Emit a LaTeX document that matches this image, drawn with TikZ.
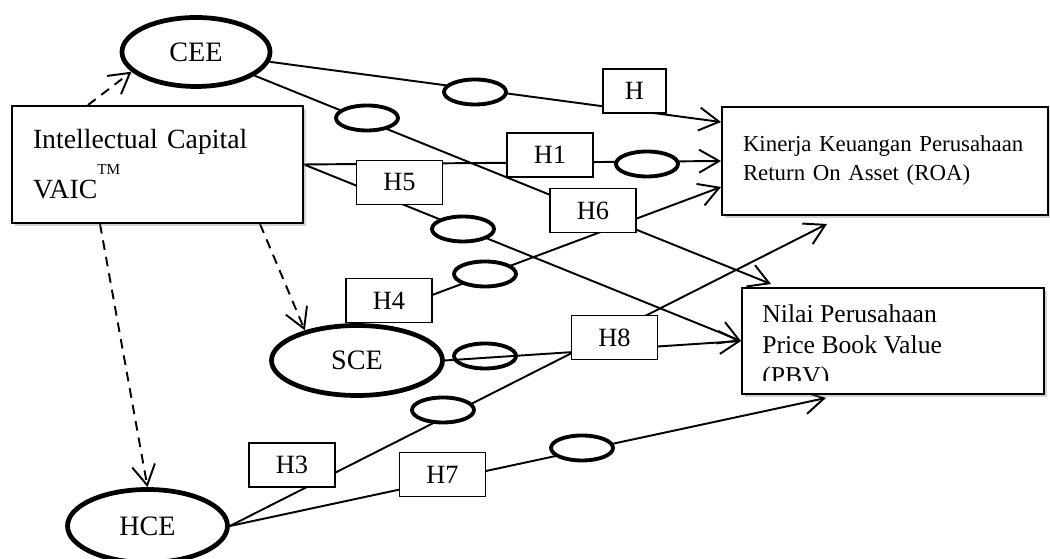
\documentclass[tikz,border=0pt]{standalone}
\usepackage{fontspec}
\setmainfont{Liberation Serif}
\usetikzlibrary{shapes.geometric, shadows, backgrounds}
\usetikzlibrary{arrows.meta}

\begin{document}
\begin{tikzpicture}[
    mainbox/.style={draw, line width=1.1pt, fill=white, rectangle, align=left,
      drop shadow={shadow xshift=0.06cm, shadow yshift=-0.06cm, opacity=0.35}},
    bigoval/.style={draw, ellipse, line width=2.7pt, fill=white, inner sep=0pt,
      font=\fontsize{16}{19}\selectfont},
    oval/.style={draw, ellipse, line width=2.2pt, fill=white, inner sep=0pt,
      minimum width=1.24cm, minimum height=0.5cm},
    hbox/.style={draw, line width=0.8pt, fill=white, inner sep=0pt,
      minimum width=1.72cm, minimum height=0.88cm, font=\fontsize{15}{18}\selectfont},
    link/.style={line width=1.1pt, -{Straight Barb[length=4mm,width=4.6mm]}},
    dashlink/.style={link, dash pattern=on 5.5pt off 4pt}
  ]
  \useasboundingbox (0,0) rectangle (21,11.18);

  % variables
  \node[mainbox, minimum width=5.82cm, minimum height=2.34cm, text width=4.98cm,
    inner xsep=0.42cm, inner ysep=0pt, font=\fontsize{15.8}{28.5}\selectfont] (ic) at (3.15,7.89)
    {Intellectual Capital\\VAIC\raisebox{13.7pt}{\fontsize{8.7}{10}\selectfont TM}};
  \node[bigoval, minimum width=2.96cm, minimum height=1.38cm] (cee) at (3.92,10.14) {CEE};
  \node[bigoval, minimum width=3.42cm, minimum height=1.4cm] (sce) at (7.14,3.97) {SCE};
  \node[bigoval, minimum width=3.2cm, minimum height=1.46cm] (hce) at (2.95,0.66) {HCE};
  \node[mainbox, minimum width=6.52cm, minimum height=2.16cm, text width=5.68cm,
    inner xsep=0.42cm, inner ysep=0pt, font=\fontsize{13}{16.5}\selectfont] (roa) at (17.7,7.96)
    {Kinerja Keuangan Perusahaan\\Return On Asset (ROA)};
  \node[mainbox, minimum width=6.04cm, minimum height=2.12cm] (pbv) at (17.86,4.36) {};
  \begin{scope}
    \clip (pbv.north west) rectangle ([yshift=0.28cm]pbv.south east);
    \node[anchor=base west, align=left, inner sep=0pt, font=\fontsize{14.6}{17.6}\selectfont]
      (pbvtext) at ([xshift=0.42cm,yshift=-1.94cm]pbv.north west)
      {Nilai Perusahaan\\Price Book Value\\(PBV)};
  \end{scope}

  % mediating ovals
  \foreach \n/\x/\y in {o1/9.5/9.34, o2/7.34/8.82, o3/12.94/7.9, o4/9.26/6.6,
                        o5/9.7/5.7, o7/8.86/2.98, o8/11.64/2.22}
    \node[oval] (\n) at (\x,\y) {};
  \node[oval, fill=none] (o6) at (9.7,4.06) {};

  % hypotheses
  \node[hbox, minimum width=1.26cm] (h) at (12.69,9.36) {H};
  \node[hbox] (h1) at (11.0,8.08) {H1};
  \node[hbox] (h5) at (7.99,7.53) {H5};
  \node[hbox] (h6) at (11.86,6.97) {H6};
  \node[hbox] (h4) at (7.78,5.17) {H4};
  \node[hbox] (h8) at (12.29,4.43) {H8};
  \node[hbox] (h3) at (5.84,1.88) {H3};
  \node[hbox] (h7) at (8.85,1.69) {H7};

  \coordinate (roa-in) at ([xshift=2.12cm,yshift=-0.16cm]roa.south west);
  \coordinate (pbv-in) at ([xshift=1.7cm,yshift=-0.06cm]pbv.south west);

  \begin{pgfonlayer}{background}
    \draw[link] (cee) -- ([yshift=-0.32cm]roa.north west);
    \draw[link] (cee) -- ([xshift=0.6cm,yshift=0.06cm]pbv.north west);
    \draw[link] (ic.east) -- (roa.west);
    \draw[link] (ic.east) -- (pbv.west);
    \draw[link] (sce.north) -- ([yshift=-0.52cm]roa.west);
    \draw[link] (sce.east) -- (pbv.west);
    \draw[link] (hce.east) -- (roa-in);
    \draw[link] (hce.east) -- (pbv-in);

    \draw[dashlink] ([xshift=-1.39cm]ic.north) -- (cee.197);
    \draw[dashlink] ([xshift=-1.15cm]ic.south) -- (hce.north);
    \draw[dashlink] ([xshift=2.05cm]ic.south) -- (sce.150);
  \end{pgfonlayer}
\end{tikzpicture}
\end{document}
